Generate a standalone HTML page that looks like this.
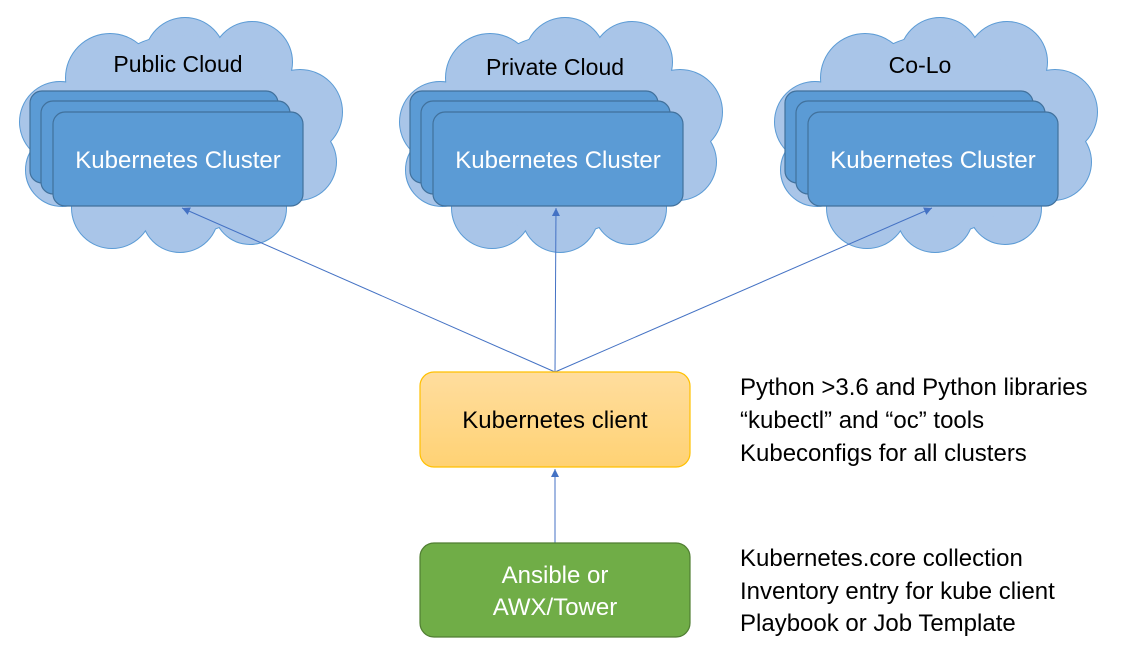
<!DOCTYPE html>
<html><head><meta charset="utf-8"><style>
html,body{margin:0;padding:0;background:#fff;}
svg{display:block;font-family:"Liberation Sans",sans-serif;}
</style></head><body>
<svg width="1125" height="651" viewBox="0 0 1125 651">
<defs>
<g id="cs">
<circle cx="110" cy="78" r="44"/><circle cx="185" cy="58" r="40"/><circle cx="252" cy="62" r="40"/>
<circle cx="300" cy="112" r="42"/><circle cx="298" cy="162" r="38"/><circle cx="250" cy="208" r="36"/>
<circle cx="180" cy="214" r="38"/><circle cx="112" cy="208" r="40"/><circle cx="62" cy="170" r="36"/>
<circle cx="60" cy="122" r="40"/><circle cx="180" cy="135" r="100"/>
</g>
<g id="cloud">
<use href="#cs" fill="#9DBDE6" stroke="#5B9BD5" stroke-width="2"/>
<use href="#cs" fill="#A9C5E8" stroke="none"/>
<rect x="30" y="91" width="248" height="92" rx="12" fill="#5B9BD5" stroke="#41719C" stroke-width="1.2"/>
<rect x="41" y="101" width="249" height="93" rx="12" fill="#5B9BD5" stroke="#41719C" stroke-width="1.2"/>
<rect x="53" y="112" width="250" height="94" rx="12" fill="#5B9BD5" stroke="#41719C" stroke-width="1.2"/>
<text x="178" y="168" font-size="24" fill="#fff" text-anchor="middle">Kubernetes Cluster</text>
</g>
<linearGradient id="yg" x1="0" y1="0" x2="0" y2="1"><stop offset="0" stop-color="#FFDD9E"/><stop offset="1" stop-color="#FFD274"/></linearGradient>
<marker id="ah" markerWidth="10" markerHeight="10" refX="8" refY="4" orient="auto" markerUnits="userSpaceOnUse"><path d="M0,0 L8,4 L0,8 z" fill="#4472C4"/></marker>
</defs>
<use href="#cloud"/>
<use href="#cloud" transform="translate(380,0)"/>
<use href="#cloud" transform="translate(755,0)"/>
<text x="178" y="72" font-size="23" text-anchor="middle">Public Cloud</text>
<text x="555" y="75" font-size="23" text-anchor="middle">Private Cloud</text>
<text x="920" y="73" font-size="23" text-anchor="middle">Co-Lo</text>
<g stroke="#4472C4" stroke-width="1" fill="none">
<line x1="555" y1="372" x2="182" y2="208" marker-end="url(#ah)"/>
<line x1="555" y1="372" x2="556" y2="208" marker-end="url(#ah)"/>
<line x1="555" y1="372" x2="932" y2="208" marker-end="url(#ah)"/>
<line x1="555" y1="543" x2="555" y2="469" marker-end="url(#ah)"/>
</g>
<rect x="420" y="372" width="270" height="95" rx="14" fill="url(#yg)" stroke="#FFC000" stroke-width="1.2"/>
<text x="555" y="428" font-size="24" text-anchor="middle">Kubernetes client</text>
<rect x="420" y="543" width="270" height="94" rx="14" fill="#70AD47" stroke="#507E32" stroke-width="1.2"/>
<text x="555" y="583" font-size="24" fill="#fff" text-anchor="middle">Ansible or</text>
<text x="555" y="615" font-size="24" fill="#fff" text-anchor="middle">AWX/Tower</text>
<g font-size="24">
<text x="740" y="395">Python &gt;3.6 and Python libraries</text>
<text x="740" y="428">“kubectl” and “oc” tools</text>
<text x="740" y="461">Kubeconfigs for all clusters</text>
<text x="740" y="566">Kubernetes.core collection</text>
<text x="740" y="599">Inventory entry for kube client</text>
<text x="740" y="631">Playbook or Job Template</text>
</g>
</svg>
</body></html>
